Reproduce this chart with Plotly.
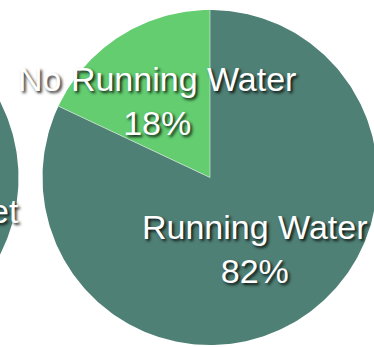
import numpy as np
import plotly.graph_objects as go

# Household access shares (percent)
water_labels = ["Running Water", "No Running Water"]
water_values = [82, 18]

toilet_labels = ["Flush Toilet", "No Flush Toilet"]
toilet_values = [78, 22]

slice_colors = ["#4f8075", "#63cd70"]

W, H = 374, 347
R = 167.5


def pie_traces(values, colors, cx, cy, r):
    """Filled wedges drawn clockwise from 12 o'clock, in pixel-like axis units."""
    traces = []
    total = float(sum(values))
    start = 0.0
    for v, c in zip(values, colors):
        frac = v / total
        th = np.linspace(start, start + frac, max(int(frac * 360), 2)) * 2 * np.pi
        xs = np.concatenate([[cx], cx + r * np.sin(th), [cx]])
        ys = np.concatenate([[cy], cy - r * np.cos(th), [cy]])
        traces.append(go.Scatter(x=xs, y=ys, mode="lines", fill="toself",
                                 fillcolor=c, line=dict(width=0),
                                 hoverinfo="skip", showlegend=False))
        start += frac
    # thin light separators along the slice edges
    start = 0.0
    for v in values:
        a = start * 2 * np.pi
        traces.append(go.Scatter(x=[cx, cx + r * np.sin(a)], y=[cy, cy - r * np.cos(a)],
                                 mode="lines", line=dict(color="rgba(230,235,232,0.6)", width=1),
                                 hoverinfo="skip", showlegend=False))
        start += v / total
    return traces


fig = go.Figure()
for t in pie_traces(toilet_values, slice_colors, -149, 178, R):
    fig.add_trace(t)
for t in pie_traces(water_values, slice_colors, 210, 177.5, R):
    fig.add_trace(t)

label_font = dict(family="Liberation Sans, Arial, sans-serif", size=34, color="white",
                  shadow="2px 2px 3px rgba(0,0,0,0.85)")

fig.add_annotation(x=255, y=249, xref="x", yref="y", showarrow=False,
                   text=f"{water_labels[0]}<br>{water_values[0]}%", font=label_font,
                   xanchor="center", yanchor="middle", align="center")
fig.add_annotation(x=157, y=101, xref="x", yref="y", showarrow=False,
                   text=f"{water_labels[1]}<br>{water_values[1]}%", font=label_font,
                   xanchor="center", yanchor="middle", align="center")
fig.add_annotation(x=21, y=233, xref="x", yref="y", showarrow=False,
                   text=f"{toilet_labels[0]}<br>{toilet_values[0]}%", font=label_font,
                   xanchor="right", yanchor="middle", align="center")

fig.update_xaxes(range=[0, W], visible=False, fixedrange=True)
fig.update_yaxes(range=[H, 0], visible=False, fixedrange=True)
fig.update_layout(width=W, height=H, margin=dict(l=0, r=0, t=0, b=0),
                  paper_bgcolor="white", plot_bgcolor="white")

fig.write_html("out.html", config={"displayModeBar": False})
